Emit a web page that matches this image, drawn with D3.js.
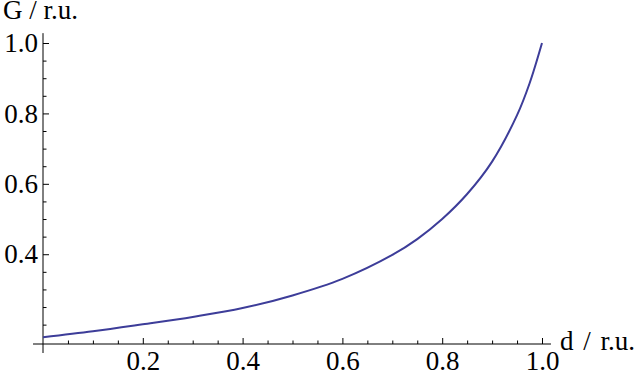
<!DOCTYPE html>
<html>
<head>
<meta charset="utf-8">
<script src="https://cdn.jsdelivr.net/npm/d3@7"></script>
<style>
  html, body { margin: 0; padding: 0; background: #fff; }
  svg { display: block; }
  svg text { font-family: "Liberation Serif", "Times New Roman", serif; }
</style>
</head>
<body>
<div id="chart"></div>
<script>
// valeurs
const dValues = [0, 0.1, 0.2, 0.3, 0.4, 0.5, 0.6, 0.7, 0.75, 0.8, 0.85, 0.9, 0.95, 0.975, 1.0];
const gValues = [0.164, 0.181, 0.201, 0.222, 0.247, 0.283, 0.330, 0.398, 0.443, 0.500, 0.571, 0.663, 0.795, 0.885, 1.0];

const xTickValues = [0.2, 0.4, 0.6, 0.8, 1.0];
const yTickValues = [0.4, 0.6, 0.8, 1.0];
const xMinorTicks = [0.05, 0.1, 0.15, 0.25, 0.3, 0.35, 0.45, 0.5, 0.55, 0.65, 0.7, 0.75, 0.85, 0.9, 0.95];
const yMinorTicks = [0.2, 0.25, 0.3, 0.35, 0.45, 0.5, 0.55, 0.65, 0.7, 0.75, 0.85, 0.9, 0.95];

const xLabel = "d / r.u.";
const yLabel = "G / r.u.";

const width = 640, height = 371;
const fontSize = 27;

const svg = d3.select('#chart')
    .append('svg')
    .attr('width', width)
    .attr('height', height);

// échelles
const x = d3.scaleLinear().domain([0, 1]).range([43, 542]);
const y = d3.scaleLinear().domain([0.145, 1.0]).range([344, 43]);

const axisColor = "#000";

// lignes des axes (dépassent un peu l'origine, comme Mathematica)
svg.append("line")
    .attr("x1", x(-0.02)).attr("x2", x(1.018))
    .attr("y1", y(0.145)).attr("y2", y(0.145))
    .attr("stroke", axisColor).attr("stroke-width", 1);

svg.append("line")
    .attr("x1", x(0)).attr("x2", x(0))
    .attr("y1", y(0.145) + 9).attr("y2", y(1.028))
    .attr("stroke", axisColor).attr("stroke-width", 1);

// graduations mineures
svg.append("g")
    .attr("transform", "translate(0," + y(0.145) + ")")
    .call(d3.axisBottom(x).tickValues(xMinorTicks).tickSize(-3.5).tickFormat(""))
    .call(g => g.select(".domain").remove());

svg.append("g")
    .attr("transform", "translate(" + x(0) + ",0)")
    .call(d3.axisLeft(y).tickValues(yMinorTicks).tickSize(-3.5).tickFormat(""))
    .call(g => g.select(".domain").remove());

// graduations majeures + étiquettes
svg.append("g")
    .attr("transform", "translate(0," + y(0.145) + ")")
    .call(d3.axisBottom(x).tickValues(xTickValues).tickSize(-6).tickPadding(7).tickFormat(d3.format(".1f")))
    .call(g => g.select(".domain").remove())
    .call(g => g.selectAll("text").style("font-size", fontSize + "px").attr("fill", "#000"));

svg.append("g")
    .attr("transform", "translate(" + x(0) + ",0)")
    .call(d3.axisLeft(y).tickValues(yTickValues).tickSize(-6).tickPadding(5).tickFormat(d3.format(".1f")))
    .call(g => g.select(".domain").remove())
    .call(g => g.selectAll("text").style("font-size", fontSize + "px").attr("fill", "#000"));

svg.selectAll(".tick line").attr("stroke", axisColor);

// titres des axes
svg.append("text")
    .attr("x", 3)
    .attr("y", 19)
    .style("font-size", fontSize + "px")
    .text(yLabel);

svg.append("text")
    .attr("x", 560)
    .attr("y", 350)
    .style("font-size", fontSize + "px")
    .style("word-spacing", "3px")
    .text(xLabel);

// courbe
const points = dValues.map((d, i) => ({ d: d, g: gValues[i] }));

const line = d3.line()
    .x(p => x(p.d))
    .y(p => y(p.g))
    .curve(d3.curveCatmullRom.alpha(0.5));

svg.append("path")
    .datum(points)
    .attr("d", line)
    .attr("fill", "none")
    .attr("stroke", "#3d3d99")
    .attr("stroke-width", 2);
</script>
</body>
</html>
